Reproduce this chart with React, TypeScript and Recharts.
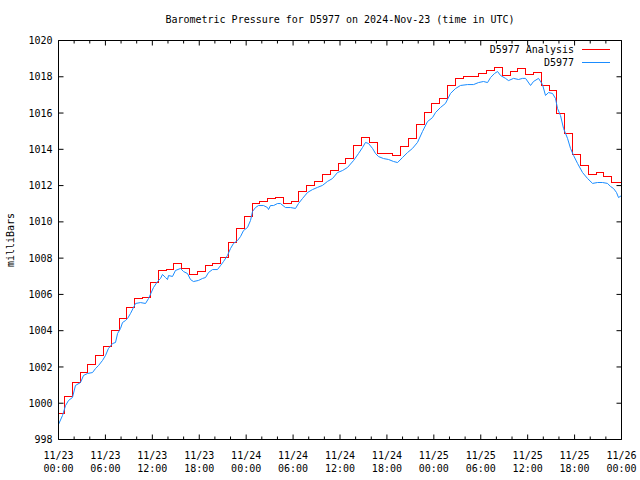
import React from "react";
import { LineChart, Line, XAxis, YAxis, Legend } from "recharts";

const hourTicks = [0, 2, 4, 6, 8, 10, 12, 14, 16, 18, 20, 22, 24, 26, 28, 30, 32, 34, 36, 38, 40, 42, 44, 46, 48, 50, 52, 54, 56, 58, 60, 62, 64, 66, 68, 70, 72];
const pressureTicks = [998, 1000, 1002, 1004, 1006, 1008, 1010, 1012, 1014, 1016, 1018, 1020];
const dateLabels = ["11/23", "11/23", "11/23", "11/23", "11/24", "11/24", "11/24", "11/24", "11/25", "11/25", "11/25", "11/25", "11/26"];
const clockLabels = ["00:00", "06:00", "12:00", "18:00", "00:00", "06:00", "12:00", "18:00", "00:00", "06:00", "12:00", "18:00", "00:00"];

// hourly analysis (one value per hour slot, slot changes at :45)
const analysisPressure = [
  999.43, 1000.37, 1001.14, 1001.69, 1002.14, 1002.63, 1003.13, 1004.01, 1004.67, 1005.28,
  1005.77, 1005.83, 1006.66, 1007.32, 1007.37, 1007.7, 1007.43, 1007.1, 1007.26, 1007.59,
  1007.7, 1008.04, 1008.86, 1009.63, 1010.3, 1011.01, 1011.12, 1011.29, 1011.34, 1011.01,
  1011.12, 1011.67, 1012.01, 1012.23, 1012.61, 1012.83, 1013.22, 1013.49, 1014.21, 1014.65,
  1014.38, 1013.77, 1013.77, 1013.66, 1014.16, 1014.6, 1015.37, 1016.03, 1016.53, 1016.8,
  1017.52, 1017.91, 1018.02, 1018.02, 1018.18, 1018.35, 1018.51, 1018.07, 1018.29, 1018.46,
  1018.13, 1018.24, 1017.52, 1017.24, 1015.98, 1014.87, 1013.71, 1013.11, 1012.61, 1012.72,
  1012.5, 1012.17, 1012.17,
];

// station observations (hours since 11/23 00:00 UTC)
const stationHours = [
  0, 0.51, 0.9, 1.28, 1.79, 2.17, 2.81, 3.2, 3.71, 4.35, 4.73, 5.12, 5.63, 6.01, 6.39, 6.91, 7.29, 7.55,
  7.93, 8.19, 8.57, 8.83, 9.21, 9.85, 10.49, 11.13, 11.51, 12.15, 12.66, 13.05, 13.3, 13.68, 13.94, 14.07,
  14.58, 14.96, 15.6, 15.99, 16.5, 16.88, 17.26, 17.9, 18.42, 18.8, 19.19, 19.7, 20.33, 20.72, 21.1, 21.61,
  22.0, 22.38, 22.89, 23.28, 23.66, 24.17, 24.56, 24.81, 25.19, 25.58, 26.22, 26.73, 26.86, 27.11, 27.5, 28.01,
  28.39, 29.03, 29.67, 30.31, 30.69, 31.21, 31.85, 32.48, 33.12, 33.76, 34.4, 35.04, 35.68, 36.32, 36.96, 37.73,
  38.37, 38.88, 39.26, 39.65, 40.16, 40.54, 40.93, 41.57, 42.2, 42.84, 43.36, 44.0, 44.63, 45.27, 45.91, 46.55,
  47.19, 47.83, 48.22, 48.86, 49.49, 50.13, 50.77, 51.41, 52.31, 53.08, 53.71, 54.35, 54.87, 55.26, 55.76, 56.15,
  56.53, 57.17, 57.55, 58.19, 58.83, 59.34, 59.73, 60.37, 60.75, 61.39, 61.9, 62.28, 62.67, 63.18, 63.56, 63.82,
  64.2, 64.59, 65.1, 65.48, 65.87, 66.38, 67.02, 67.66, 68.3, 68.93, 69.57, 70.21, 70.6, 70.98, 71.36, 71.62, 72,
];
const stationPressure = [
  998.83, 999.32, 999.87, 1000.15, 1000.32, 1000.98, 1001.14, 1001.53, 1001.64, 1001.69, 1001.91, 1002.08, 1002.36, 1002.63, 1003.02, 1003.29, 1003.35, 1003.84,
  1004.12, 1004.45, 1004.56, 1004.67, 1004.95, 1005.5, 1005.55, 1005.5, 1005.77, 1006.38, 1006.71, 1006.88, 1007.1, 1006.93, 1006.82, 1007.04,
  1006.99, 1007.32, 1007.43, 1007.26, 1007.15, 1006.82, 1006.71, 1006.77, 1006.88, 1006.93, 1007.21, 1007.37, 1007.37, 1007.59, 1007.81, 1008.15,
  1008.53, 1008.81, 1008.97, 1009.19, 1009.52, 1009.69, 1010.08, 1010.57, 1010.79, 1010.9, 1010.9, 1010.79, 1010.68, 1010.9, 1010.9, 1011.01,
  1011.01, 1010.79, 1010.79, 1010.74, 1011.01, 1011.29, 1011.62, 1011.78, 1011.9, 1012.01, 1012.23, 1012.39, 1012.72, 1012.83, 1013.0, 1013.38,
  1013.77, 1014.1, 1014.38, 1014.32, 1014.05, 1013.77, 1013.6, 1013.49, 1013.44, 1013.33, 1013.27, 1013.55, 1013.82, 1014.05, 1014.38, 1014.98,
  1015.53, 1015.75, 1016.03, 1016.31, 1016.53, 1017.08, 1017.35, 1017.52, 1017.57, 1017.57, 1017.68, 1017.74, 1017.68, 1017.96, 1018.18, 1018.29,
  1018.07, 1017.91, 1017.79, 1017.91, 1017.85, 1017.91, 1017.91, 1017.52, 1017.74, 1017.91, 1017.57, 1016.97, 1017.13, 1017.08, 1016.8, 1016.25,
  1015.86, 1015.15, 1014.6, 1014.05, 1013.66, 1013.22, 1012.72, 1012.39, 1012.12, 1012.17, 1012.17, 1012.12, 1011.95, 1011.84, 1011.62, 1011.34, 1011.45,
];

const seriesNames = ["D5977 Analysis", "D5977"];
const seriesColors = ["#ff0000", "#1a8cff"];

const analysisData = analysisPressure
  .map((p, i) => ({ t: i === 0 ? 0 : i - 0.25, p }))
  .concat([{ t: 72, p: analysisPressure[analysisPressure.length - 1] }]);
const stationData = stationHours.map((t, i) => ({ t, p: stationPressure[i] }));

const FONT = "'DejaVu Sans Mono', 'Liberation Mono', monospace";
const txt = { fontFamily: FONT, fontSize: 10, fill: "#000" };

const BottomTick = ({ x, y, payload }: any) => {
  const h = payload.value;
  const major = h % 6 === 0;
  return (
    <g>
      <line x1={x} y1={y} x2={x} y2={y - (major ? 5 : 3)} stroke="#000" />
      {major && (
        <text x={x} y={y + 19} textAnchor="middle" {...txt}>
          <tspan x={x}>{dateLabels[h / 6]}</tspan>
          <tspan x={x} dy={13}>{clockLabels[h / 6]}</tspan>
        </text>
      )}
    </g>
  );
};

const TopTick = ({ x, y, payload }: any) => {
  const major = payload.value % 6 === 0;
  return <line x1={x} y1={y} x2={x} y2={y + (major ? 5 : 3)} stroke="#000" />;
};

const LeftTick = ({ x, y, payload }: any) => (
  <g>
    <line x1={x} y1={y} x2={x + 5} y2={y} stroke="#000" />
    <text x={x - 6} y={y + 3.6} textAnchor="end" {...txt}>{payload.value}</text>
  </g>
);

const RightTick = ({ x, y }: any) => <line x1={x} y1={y} x2={x - 5} y2={y} stroke="#000" />;

const TitleLabel = (props: any) => {
  const vb = props.viewBox;
  return (
    <text x={vb.x + vb.width / 2} y={vb.y + vb.height - 18} textAnchor="middle" {...txt}>
      Barometric Pressure for D5977 on 2024-Nov-23 (time in UTC)
    </text>
  );
};

const YTitle = (props: any) => {
  const vb = props.viewBox;
  const cx = vb.x + vb.width - 45;
  const cy = vb.y + vb.height / 2;
  return (
    <text x={cx} y={cy} textAnchor="middle" transform={`rotate(-90 ${cx} ${cy})`} {...txt}>
      milliBars
    </text>
  );
};

const LegendBox = () => (
  <div style={{ fontFamily: FONT, fontSize: 10, color: "#000" }}>
    {seriesNames.map((name, i) => (
      <div key={name} style={{ display: "flex", justifyContent: "flex-end", alignItems: "center", height: 13, lineHeight: "13px" }}>
        <span>{name}</span>
        <svg width={28} height={13} style={{ marginLeft: 8 }}>
          <line x1={0} x2={28} y1={6.5} y2={6.5} stroke={seriesColors[i]} />
        </svg>
      </div>
    ))}
  </div>
);

export default function App() {
  return (
    <div style={{ position: "absolute", left: 0, top: 0, width: 640, height: 480, background: "#fff" }}>
      <LineChart width={640} height={480} margin={{ top: 10.5, right: 8.5, bottom: 10.5, left: 28.5 }}>
        <XAxis type="number" dataKey="t" domain={[0, 72]} ticks={hourTicks} interval={0} allowDataOverflow
          height={30} tickSize={0} tickMargin={0} tickLine={false} tick={<BottomTick />} axisLine={{ stroke: "#000" }} />
        <XAxis xAxisId="top" orientation="top" type="number" dataKey="t" domain={[0, 72]} ticks={hourTicks} interval={0} allowDataOverflow
          height={30} tickSize={0} tickMargin={0} tickLine={false} tick={<TopTick />} axisLine={{ stroke: "#000" }} label={TitleLabel} />
        <YAxis type="number" domain={[998, 1020]} ticks={pressureTicks} interval={0} allowDataOverflow
          width={30} tickSize={0} tickMargin={0} tickLine={false} tick={<LeftTick />} axisLine={{ stroke: "#000" }} label={YTitle} />
        <YAxis yAxisId="right" orientation="right" type="number" domain={[998, 1020]} ticks={pressureTicks} interval={0} allowDataOverflow
          width={10} tickSize={0} tickMargin={0} tickLine={false} tick={<RightTick />} axisLine={{ stroke: "#000" }} />
        <Legend layout="vertical" align="center" verticalAlign="middle" content={<LegendBox />}
          wrapperStyle={{ position: "absolute", left: 420, top: 43, width: 190, height: 26 }} />
        <Line data={analysisData} dataKey="p" name={seriesNames[0]} type="stepAfter" stroke={seriesColors[0]} strokeWidth={1}
          shapeRendering="crispEdges" dot={false} activeDot={false} isAnimationActive={false} />
        <Line data={stationData} dataKey="p" name={seriesNames[1]} type="linear" stroke={seriesColors[1]} strokeWidth={1}
          dot={false} activeDot={false} isAnimationActive={false} />
      </LineChart>
    </div>
  );
}
